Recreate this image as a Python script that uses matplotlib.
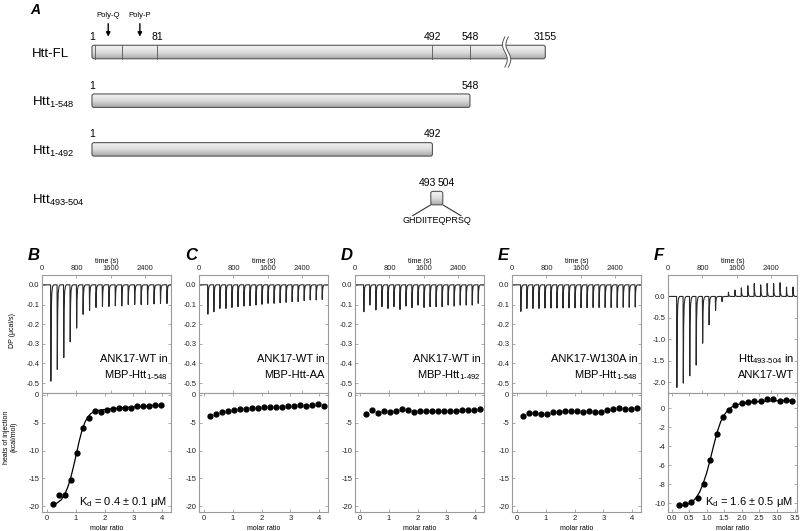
import numpy as np
import matplotlib.pyplot as plt
from matplotlib.patches import FancyBboxPatch, Polygon
from matplotlib.colors import LinearSegmentedColormap
from matplotlib.transforms import blended_transform_factory

plt.rcParams['font.family'] = ['Liberation Sans', 'DejaVu Sans']
plt.rcParams['axes.unicode_minus'] = False
plt.rcParams['mathtext.fontset'] = 'custom'
plt.rcParams['mathtext.rm'] = 'Liberation Sans'
plt.rcParams['mathtext.it'] = 'Liberation Sans:italic'
plt.rcParams['mathtext.bf'] = 'Liberation Sans:bold'

############ DATA : panel A ############
construct_names = ['Htt-FL', r'Htt$_{\text{1-548}}$', r'Htt$_{\text{1-492}}$', r'Htt$_{\text{493-504}}$']
construct_start = [1, 1, 1, 493]
construct_end = [3155, 548, 492, 504]
fl_dividers = [5, 38, 81, 492, 548]
fl_numbers = [1, 81, 492, 548, 3155]
motif_names = ['Poly-Q', 'Poly-P']
motif_res = [21, 60]
peptide = 'GHDIITEQPRSQ'
# schematic scale of the drawing (N-term stretched, break after 548)
scale_res = [1, 81, 548, 3155]
scale_pos = [1, 95, 548, 657]
break_pos = 601

############ DATA : panels B-F ############
panel_letters = ['B', 'C', 'D', 'E', 'F']
line1 = ['ANK17-WT in', 'ANK17-WT in', 'ANK17-WT in', 'ANK17-W130A in', r'Htt$_{\text{493-504}}$ in']
line2 = [r'MBP-Htt$_{\text{1-548}}$', 'MBP-Htt-AA', r'MBP-Htt$_{\text{1-492}}$', r'MBP-Htt$_{\text{1-548}}$', 'ANK17-WT']
kd_text = [r'K$_{\text{d}}$ = 0.4 ± 0.1 μM', None, None, None, r'K$_{\text{d}}$ = 1.6 ± 0.5 μM']

time_ticks = [0, 800, 1600, 2400]
t19 = [200, 350, 500, 650, 800, 950, 1100, 1250, 1400, 1550, 1700, 1850, 2000, 2150, 2300, 2450, 2600, 2750, 2900]
t20 = [200, 340, 480, 620, 760, 900, 1040, 1180, 1320, 1460, 1600, 1740, 1880, 2020, 2160, 2300, 2440, 2580, 2720, 2860]

peaks_b = [-0.49, -0.43, -0.37, -0.29, -0.22, -0.15, -0.13, -0.115, -0.11, -0.11, -0.107, -0.107, -0.10, -0.10, -0.10, -0.10, -0.097, -0.095, -0.095]
peaks_c = [-0.149, -0.137, -0.12, -0.12, -0.115, -0.111, -0.108, -0.106, -0.103, -0.099, -0.094, -0.094, -0.091, -0.089, -0.085, -0.085, -0.080, -0.077, -0.077, -0.074]
peaks_d = [-0.137, -0.103, -0.128, -0.111, -0.12, -0.111, -0.125, -0.108, -0.116, -0.103, -0.115, -0.111, -0.111, -0.111, -0.103, -0.108, -0.103, -0.103, -0.103, -0.094]
peaks_e = [-0.135, -0.12, -0.12, -0.12, -0.118, -0.118, -0.118, -0.118, -0.117, -0.117, -0.116, -0.116, -0.115, -0.115, -0.115, -0.115, -0.115, -0.114, -0.114, -0.113]
peaks_f = [-2.12, -2.02, -1.85, -1.60, -1.09, -0.66, -0.33, -0.12, 0.10, 0.15, 0.2, 0.25, 0.3, 0.27, 0.3, 0.3, 0.32, 0.22, 0.22]

ratio_b = [0.22, 0.43, 0.63, 0.84, 1.05, 1.25, 1.46, 1.67, 1.88, 2.08, 2.29, 2.5, 2.7, 2.91, 3.12, 3.33, 3.54, 3.75, 3.96]
heat_b = [-19.6, -18.0, -18.0, -15.2, -10.4, -5.9, -4.2, -3.0, -3.1, -2.7, -2.6, -2.45, -2.4, -2.4, -2.1, -2.1, -2.1, -1.85, -1.9]
fit_b_x = [0.22, 0.35, 0.5, 0.62, 0.72, 0.82, 0.92, 1.02, 1.12, 1.22, 1.32, 1.42, 1.52, 1.62, 1.72, 1.85, 2.1, 2.5, 3.0, 3.5, 3.96]
fit_b_y = [-19.7, -19.4, -18.8, -17.8, -16.6, -15.0, -12.9, -10.6, -8.3, -6.3, -4.9, -4.0, -3.4, -3.05, -2.85, -2.75, -2.6, -2.4, -2.2, -2.05, -1.9]

ratio_cde = [0.22, 0.43, 0.64, 0.84, 1.05, 1.26, 1.46, 1.67, 1.88, 2.08, 2.29, 2.5, 2.7, 2.91, 3.12, 3.32, 3.53, 3.74, 3.94, 4.15]
heat_c = [-3.9, -3.5, -3.05, -2.9, -2.7, -2.6, -2.55, -2.45, -2.4, -2.25, -2.25, -2.2, -2.15, -2.1, -2.0, -1.9, -1.95, -1.9, -1.65, -2.0]
heat_d = [-3.5, -2.7, -3.35, -3.0, -3.05, -2.85, -2.6, -2.75, -3.05, -2.9, -2.9, -2.85, -2.85, -2.9, -2.85, -2.85, -2.75, -2.7, -2.7, -2.55]
heat_e = [-3.9, -3.3, -3.3, -3.45, -3.4, -3.1, -3.05, -2.9, -2.9, -3.0, -3.05, -2.9, -3.05, -3.05, -2.8, -2.55, -2.35, -2.5, -2.5, -2.35]

ratio_f = [0.2, 0.38, 0.56, 0.74, 0.92, 1.1, 1.28, 1.46, 1.64, 1.82, 2.0, 2.18, 2.36, 2.54, 2.72, 2.9, 3.08, 3.26, 3.44]
heat_f = [-10.15, -10.1, -9.85, -9.45, -7.95, -5.45, -2.75, -0.9, -0.15, 0.35, 0.55, 0.65, 0.8, 0.75, 1.0, 0.97, 0.8, 0.85, 0.8]
fit_f_x = [0.2, 0.35, 0.5, 0.6, 0.7, 0.8, 0.9, 1.0, 1.1, 1.2, 1.3, 1.4, 1.5, 1.6, 1.7, 1.85, 2.0, 2.3, 2.7, 3.1, 3.44]
fit_f_y = [-10.3, -10.2, -10.0, -9.8, -9.4, -8.8, -7.9, -6.8, -5.4, -3.9, -2.5, -1.4, -0.7, -0.2, 0.1, 0.35, 0.5, 0.65, 0.75, 0.8, 0.82]

inj_times = [t19, t20, t20, t20, t19]
peaks = [peaks_b, peaks_c, peaks_d, peaks_e, peaks_f]
ratios = [ratio_b, ratio_cde, ratio_cde, ratio_cde, ratio_f]
heats = [heat_b, heat_c, heat_d, heat_e, heat_f]
fits = [(fit_b_x, fit_b_y), None, None, None, (fit_f_x, fit_f_y)]

dp_ticks_small = [0.0, -0.1, -0.2, -0.3, -0.4, -0.5]
dp_ticks_f = [0.0, -0.5, -1.0, -1.5, -2.0]
heat_ticks_small = [0, -5, -10, -15, -20]
heat_ticks_f = [0, -2, -4, -6, -8, -10]
ratio_ticks_small = [0, 1, 2, 3, 4]
ratio_ticks_f = [0.0, 0.5, 1.0, 1.5, 2.0, 2.5, 3.0, 3.5]

W, H = 800, 531
fig = plt.figure(figsize=(W / 100, H / 100), dpi=100)


def px_axes(x0, y0, x1, y1):
    return fig.add_axes([x0 / W, 1 - y1 / H, (x1 - x0) / W, (y1 - y0) / H])


############ PANEL A ##############################################
ax_a = px_axes(0, 0, 800, 235)
ux0, ux1 = -132.1, 1025.6
ax_a.set_xlim(ux0, ux1)
ax_a.set_ylim(3.758, -1.068)
ax_a.axis('off')
bar_h = 0.277
asp = ((3.758 + 1.068) / 235) / ((ux1 - ux0) / 800)
upx = (ux1 - ux0) / 800   # x units per pixel

grad = np.linspace(0, 1, 64).reshape(-1, 1)
bar_cmap = LinearSegmentedColormap.from_list('bar', ['#f4f4f4', '#dedede', '#a8a8a8'])


def pos(r):
    return np.interp(r, scale_res, scale_pos)


def draw_bar(ax, x0, x1, yc, h):
    patch = FancyBboxPatch((x0, yc - h / 2), x1 - x0, h,
                           boxstyle='round,pad=0,rounding_size=3',
                           mutation_aspect=asp, fc='none', ec='#555555', lw=0.8, zorder=3)
    ax.add_patch(patch)
    im = ax.imshow(grad, cmap=bar_cmap, extent=(x0, x1, yc + h / 2, yc - h / 2),
                   aspect='auto', zorder=2, vmin=0, vmax=1, interpolation='bilinear')
    im.set_clip_path(patch)


lab_tr = blended_transform_factory(ax_a.transAxes, ax_a.transData)
for i, name in enumerate(construct_names):
    ax_a.text(32 / W, i, name, transform=lab_tr, ha='left', va='center_baseline', fontsize=9.5)
    if i < 3:
        draw_bar(ax_a, pos(construct_start[i]), pos(construct_end[i]), i, bar_h)

# full length: dividers, break, numbers, motifs
for d in fl_dividers:
    ax_a.plot([pos(d), pos(d)], [-bar_h / 2, bar_h / 2], color='#555555', lw=0.6, zorder=4)
t = np.linspace(-1, 1, 40)
wig = 3.5 * np.sin(np.pi * t)
left_x = break_pos - 2.5 + wig
right_x = break_pos + 2.5 + wig
wy = 0.31 * t
ax_a.add_patch(Polygon(np.column_stack([np.r_[left_x, right_x[::-1]], np.r_[wy, wy[::-1]]]),
                       closed=True, fc='white', ec='none', zorder=5))
ax_a.plot(left_x, wy, color='#555555', lw=0.7, zorder=6)
ax_a.plot(right_x, wy, color='#555555', lw=0.7, zorder=6)
for n in fl_numbers:
    ax_a.text(pos(n), -bar_h / 2 - 0.07, str(n), ha='center', va='bottom', fontsize=7.5)
for m, r in zip(motif_names, motif_res):
    ax_a.annotate('', xy=(pos(r), -bar_h / 2 - 0.12), xytext=(pos(r), -bar_h / 2 - 0.5),
                  arrowprops=dict(arrowstyle='-|>', lw=1.0, color='k', mutation_scale=6))
    ax_a.text(pos(r), -bar_h / 2 - 0.54, m, ha='center', va='bottom', fontsize=5.5)

# truncations
for i in (1, 2):
    for n in (construct_start[i], construct_end[i]):
        ax_a.text(pos(n), i - bar_h / 2 - 0.07, str(n), ha='center', va='bottom', fontsize=7.5)

# peptide (drawn slightly enlarged around its position, as in the schematic)
pc = (pos(construct_start[3]) + pos(construct_end[3])) / 2
draw_bar(ax_a, pc - 6 * upx, pc + 6 * upx, 3, bar_h)
ax_a.text(pc - 1 * upx, 3 - bar_h / 2 - 0.07, str(construct_start[3]), ha='right', va='bottom', fontsize=7.5)
ax_a.text(pc + 1 * upx, 3 - bar_h / 2 - 0.07, str(construct_end[3]), ha='left', va='bottom', fontsize=7.5)
ax_a.plot([pc - 6 * upx, pc - 24 * upx], [3 + bar_h / 2, 3 + 0.36], color='#333333', lw=0.8)
ax_a.plot([pc + 6 * upx, pc + 24 * upx], [3 + bar_h / 2, 3 + 0.36], color='#333333', lw=0.8)
ax_a.text(pc, 3 + 0.45, peptide, ha='center', va='center', fontsize=6.5)

fig.text(30 / W, 1 - 10 / H, 'A', fontsize=10, fontweight='bold', fontstyle='italic', va='center')

############ PANELS B-F ##############################################
# shape of one injection peak (relative time, relative height)
peak_dt = [0, 6, 14, 26, 45, 70]
peak_shape = [0, 1, 0.35, 0.1, 0.02, 0]


def raw_trace(times, pk):
    tt, yy = [0], [0]
    for tm, p in zip(times, pk):
        tt += [tm + d for d in peak_dt]
        yy += [p * s for s in peak_shape]
    tt.append(3100)
    yy.append(0)
    return tt, yy


spine_col = '#9a9a9a'


def style(ax):
    for s in ax.spines.values():
        s.set_color(spine_col)
        s.set_linewidth(0.8)
    ax.tick_params(direction='in', length=2, width=0.5, color='#888888', top=True, right=True,
                   labelsize=5.5, pad=2, labelcolor='#222222')


lefts = [42, 199, 355, 512, 668]
for i in range(5):
    x0 = lefts[i]
    x1 = x0 + 129
    is_f = panel_letters[i] == 'F'
    ax_t = px_axes(x0, 275, x1, 393)
    ax_b = px_axes(x0, 393, x1, 512)

    tt, yy = raw_trace(inj_times[i], peaks[i])
    ax_t.plot(tt, yy, color='#2a2a2a', lw=0.8)
    ax_t.set_xlim(0, 3000)
    dpt = dp_ticks_f if is_f else dp_ticks_small
    ax_t.set_ylim((-2.25, 0.5) if is_f else (-0.55, 0.05))
    ax_t.set_yticks(dpt)
    ax_t.set_yticklabels([f'{v:.1f}' for v in dpt])
    ax_t.set_xticks(time_ticks)
    style(ax_t)
    ax_t.tick_params(axis='x', labeltop=True, labelbottom=False)
    ax_t.xaxis.set_label_position('top')
    ax_t.set_xlabel('time (s)', fontsize=5, labelpad=1.5)
    ax_t.text(0.975, 0.285, line1[i], transform=ax_t.transAxes, ha='right', va='center', fontsize=8)
    ax_t.text(0.975, 0.15, line2[i], transform=ax_t.transAxes, ha='right', va='center', fontsize=8)

    ax_b.plot(ratios[i], heats[i], 'o', color='k', ms=3.5, zorder=3)
    if fits[i] is not None:
        ax_b.plot(fits[i][0], fits[i][1], color='k', lw=0.9, zorder=2)
    if is_f:
        ax_b.set_xlim(-0.1, 3.57)
        ax_b.set_ylim(-10.9, 1.6)
        ax_b.set_yticks(heat_ticks_f)
        ax_b.set_xticks(ratio_ticks_f)
        ax_b.set_xticklabels([f'{v:.1f}' for v in ratio_ticks_f])
    else:
        ax_b.set_xlim(-0.17, 4.3)
        ax_b.set_ylim(-21, 0.3)
        ax_b.set_yticks(heat_ticks_small)
        ax_b.set_xticks(ratio_ticks_small)
    style(ax_b)
    ax_b.set_xlabel('molar ratio', fontsize=5, labelpad=2)
    if kd_text[i]:
        ax_b.text(0.965, 0.08, kd_text[i], transform=ax_b.transAxes, ha='right', va='center', fontsize=8)

    fig.text((x0 - 14) / W, 1 - 256 / H, panel_letters[i], fontsize=12, fontweight='bold',
             fontstyle='italic', va='center', ha='left')

fig.text(12 / W, 1 - 330 / H, 'DP (μcal/s)', rotation=90, fontsize=5, ha='center', va='center')
fig.text(10 / W, 1 - 437 / H, 'heats of injection\n(kcal/mol)', rotation=90, fontsize=5,
         ha='center', va='center', linespacing=1.1)

fig.savefig('out.png', dpi=100)
